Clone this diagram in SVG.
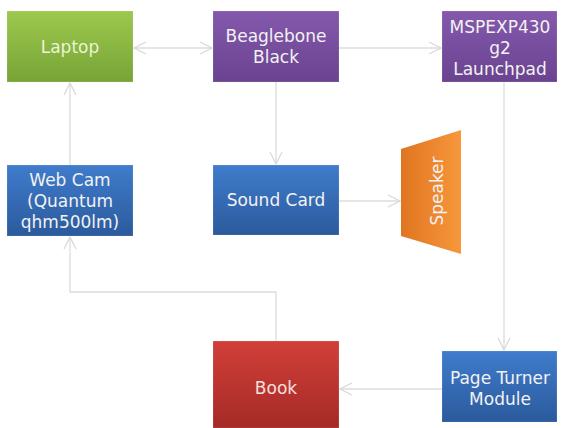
<svg xmlns="http://www.w3.org/2000/svg" width="564" height="428" viewBox="0 0 564 428">
<defs>
<linearGradient id="gGreen" x1="0" y1="0" x2="0" y2="1"><stop offset="0" stop-color="#9cc84e"/><stop offset="1" stop-color="#78a437"/></linearGradient>
<linearGradient id="gPurple" x1="0" y1="0" x2="0" y2="1"><stop offset="0" stop-color="#8459ad"/><stop offset="1" stop-color="#6a4390"/></linearGradient>
<linearGradient id="gBlue" x1="0" y1="0" x2="0" y2="1"><stop offset="0" stop-color="#3f7ccc"/><stop offset="1" stop-color="#2b5a9c"/></linearGradient>
<linearGradient id="gRed" x1="0" y1="0" x2="0" y2="1"><stop offset="0" stop-color="#d23f39"/><stop offset="1" stop-color="#a52a27"/></linearGradient>
<linearGradient id="gOrange" x1="0" y1="0" x2="1" y2="0"><stop offset="0" stop-color="#e07520"/><stop offset="1" stop-color="#f7973c"/></linearGradient>
<marker id="arr" viewBox="0 0 14 14" refX="13" refY="7" markerWidth="14" markerHeight="14" markerUnits="userSpaceOnUse" orient="auto-start-reverse">
<path d="M1,1 L13,7 L1,13" fill="none" stroke="#d8d8d8" stroke-width="1.2"/>
</marker>
</defs>
<style>
.conn{fill:none;stroke:#dcdcdc;stroke-width:1.3}
.lbl{font-family:"DejaVu Sans","Verdana",sans-serif;font-size:17px;fill:#f2f2f2;text-anchor:middle}
.box{stroke:#ffffff;stroke-opacity:0.3;stroke-width:0.5}
</style>
<rect width="564" height="428" fill="#ffffff"/>
<g id="connectors">
<line class="conn" x1="134" y1="48" x2="212" y2="48" marker-start="url(#arr)" marker-end="url(#arr)"/>
<line class="conn" x1="339" y1="48" x2="441" y2="48" marker-end="url(#arr)"/>
<line class="conn" x1="276" y1="82" x2="276" y2="164" marker-end="url(#arr)"/>
<line class="conn" x1="70" y1="165" x2="70" y2="83" marker-end="url(#arr)"/>
<polyline class="conn" points="276,341 276,292 70,292 70,237" marker-end="url(#arr)"/>
<line class="conn" x1="339" y1="201" x2="400" y2="201" marker-end="url(#arr)"/>
<line class="conn" x1="504" y1="82" x2="504" y2="350" marker-end="url(#arr)"/>
<line class="conn" x1="442" y1="389" x2="340" y2="389" marker-end="url(#arr)"/>
</g>
<g id="laptop">
<rect class="box" x="7" y="11" width="126" height="71" fill="url(#gGreen)"/>
<text class="lbl" x="70" y="53" style="fill:#eaf4d4">Laptop</text>
</g>
<g id="beaglebone">
<rect class="box" x="213" y="11" width="126" height="71" fill="url(#gPurple)"/>
<text class="lbl" x="276" y="42">Beaglebone</text>
<text class="lbl" x="276" y="63">Black</text>
</g>
<g id="msp">
<rect class="box" x="442" y="11" width="115" height="71" fill="url(#gPurple)"/>
<text class="lbl" x="500" y="33">MSPEXP430</text>
<text class="lbl" x="500" y="54">g2</text>
<text class="lbl" x="500" y="75">Launchpad</text>
</g>
<g id="webcam">
<rect class="box" x="7" y="165" width="126" height="71" fill="url(#gBlue)"/>
<text class="lbl" x="70" y="186">Web Cam</text>
<text class="lbl" x="70" y="207">(Quantum</text>
<text class="lbl" x="70" y="228">qhm500lm)</text>
</g>
<g id="soundcard">
<rect class="box" x="213" y="165" width="126" height="70" fill="url(#gBlue)"/>
<text class="lbl" x="276" y="206">Sound Card</text>
</g>
<g id="speaker">
<polygon points="401,149 461,130 461,254 401,236" fill="url(#gOrange)"/>
<text class="lbl" x="0" y="0" transform="translate(443,191) rotate(-90)">Speaker</text>
</g>
<g id="book">
<rect class="box" x="213" y="341" width="126" height="87" fill="url(#gRed)"/>
<text class="lbl" x="276" y="394" style="fill:#f6e0dc">Book</text>
</g>
<g id="pageturner">
<rect class="box" x="442" y="351" width="115" height="71" fill="url(#gBlue)"/>
<text class="lbl" x="500" y="384">Page Turner</text>
<text class="lbl" x="500" y="405">Module</text>
</g>
</svg>
